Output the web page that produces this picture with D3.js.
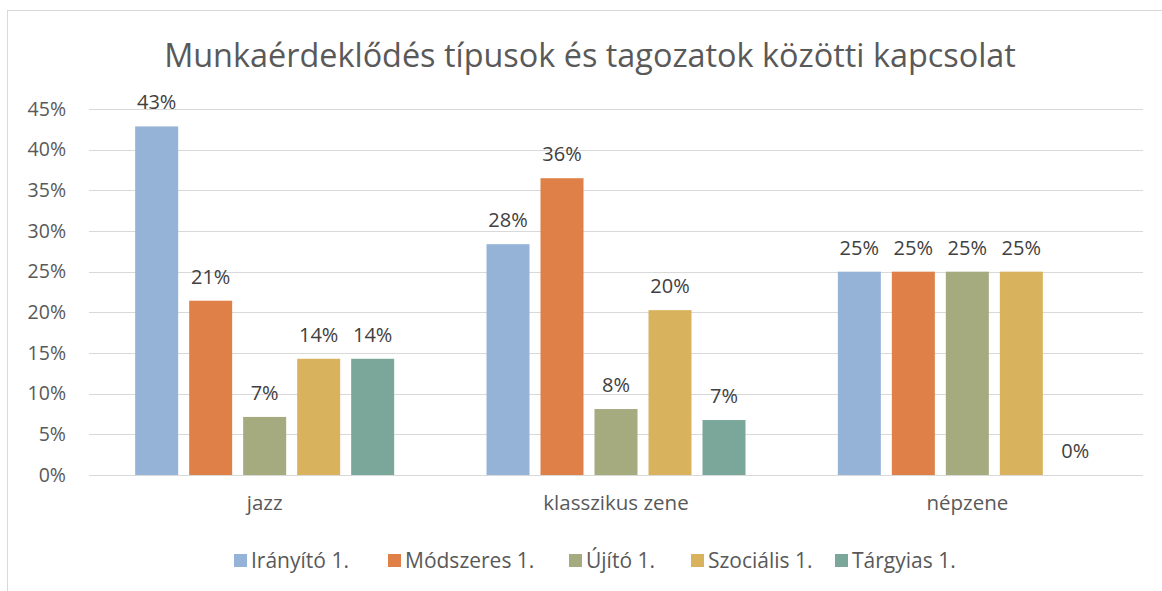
<!DOCTYPE html>
<html>
<head>
<meta charset="utf-8">
<script src="https://cdn.jsdelivr.net/npm/d3@7"></script>
<style>
  body { margin: 0; background: #fff; }
  svg text { font-family: "Open Sans", Lato, sans-serif; }
</style>
</head>
<body>
<div id="chart"></div>
<script>
var categories = ['jazz', 'klasszikus zene', 'népzene'];
var seriesNames = ['Irányító 1.', 'Módszeres 1.', 'Újító 1.', 'Szociális 1.', 'Tárgyias 1.'];
var seriesColors = ['#95B3D6', '#DE8047', '#A5AB7F', '#D9B25E', '#7BA79B'];
// values per series, one per category (fractions)
var iranyito = [0.4286, 0.2838, 0.25];
var modszeres = [0.2143, 0.3649, 0.25];
var ujito = [0.0714, 0.0811, 0.25];
var szocialis = [0.1429, 0.2027, 0.25];
var targyias = [0.1429, 0.0676, 0.0];
var yTicks = [0, 0.05, 0.10, 0.15, 0.20, 0.25, 0.30, 0.35, 0.40, 0.45];

var seriesValues = [iranyito, modszeres, ujito, szocialis, targyias];

var width = 1162, height = 591;
var margin = { top: 109, right: 19, bottom: 116, left: 89 };
var plotW = width - margin.left - margin.right;
var plotH = height - margin.top - margin.bottom;

var svg = d3.select('#chart').append('svg')
    .attr('width', width)
    .attr('height', height);

// chart frame
svg.append('rect')
    .attr('x', 7.5).attr('y', 10.5)
    .attr('width', 1170).attr('height', 600)
    .attr('fill', '#fff')
    .attr('stroke', '#d9d9d9');

svg.append('text')
    .attr('x', 590).attr('y', 67)
    .attr('text-anchor', 'middle')
    .style('font-size', '32.4px')
    .style('fill', '#595959')
    .text('Munkaérdeklődés típusok és tagozatok közötti kapcsolat');

var g = svg.append('g').attr('transform', 'translate(' + margin.left + ',' + margin.top + ')');

var x0 = d3.scaleBand().domain(categories).range([0, plotW]).padding(0);
var x1 = d3.scaleBand().domain(seriesNames).range([0, x0.bandwidth()])
    .paddingInner(0.2037).paddingOuter(0.855);
var y = d3.scaleLinear().domain([0, 0.45]).range([plotH, 0]);

// gridlines
g.append('g')
    .selectAll('line')
    .data(yTicks)
    .enter().append('line')
    .attr('x1', 0).attr('x2', plotW)
    .attr('y1', function (d) { return Math.round(y(d)) + 0.5; })
    .attr('y2', function (d) { return Math.round(y(d)) + 0.5; })
    .attr('stroke', '#d9d9d9')
    .attr('stroke-width', 1);

// y axis labels
var yAxis = g.append('g')
    .call(d3.axisLeft(y).tickValues(yTicks).tickFormat(d3.format('.0%')).tickSize(0).tickPadding(23));
yAxis.select('.domain').remove();
yAxis.selectAll('text')
    .style('font-size', '19.5px')
    .style('fill', '#595959')
    .style('font-family', '"Open Sans", Lato, sans-serif');

// x axis labels
var xAxis = g.append('g')
    .attr('transform', 'translate(0,' + plotH + ')')
    .call(d3.axisBottom(x0).tickSize(0).tickPadding(20));
xAxis.select('.domain').remove();
xAxis.selectAll('text')
    .style('font-size', '20.5px')
    .style('fill', '#595959')
    .style('font-family', '"Open Sans", Lato, sans-serif');

var groups = g.selectAll('.cat')
    .data(categories)
    .enter().append('g')
    .attr('class', 'cat')
    .attr('transform', function (d) { return 'translate(' + x0(d) + ',0)'; });

groups.each(function (cat, ci) {
    var rows = seriesNames.map(function (s, si) {
        return { name: s, value: seriesValues[si][ci], color: seriesColors[si] };
    });
    var grp = d3.select(this);
    grp.selectAll('rect')
        .data(rows)
        .enter().append('rect')
        .attr('x', function (d) { return x1(d.name); })
        .attr('width', x1.bandwidth())
        .attr('y', function (d) { return y(d.value); })
        .attr('height', function (d) { return plotH - y(d.value); })
        .attr('fill', function (d) { return d.color; });
    grp.selectAll('text.lbl')
        .data(rows)
        .enter().append('text')
        .attr('class', 'lbl')
        .attr('x', function (d) { return x1(d.name) + x1.bandwidth() / 2; })
        .attr('y', function (d) { return y(d.value) - 17; })
        .attr('text-anchor', 'middle')
        .style('font-size', '20px')
        .style('fill', '#404040')
        .text(function (d) { return Math.round(d.value * 100) + '%'; });
});

// legend
var legendX = [234, 388, 569, 691, 835];
var legend = svg.append('g').attr('transform', 'translate(0,561)');
var items = legend.selectAll('g')
    .data(seriesNames)
    .enter().append('g')
    .attr('transform', function (d, i) { return 'translate(' + legendX[i] + ',0)'; });
items.append('rect')
    .attr('x', 0).attr('y', -7)
    .attr('width', 13).attr('height', 13)
    .attr('fill', function (d, i) { return seriesColors[i]; });
items.append('text')
    .attr('x', 17).attr('y', 7)
    .style('font-size', '21px')
    .style('fill', '#595959')
    .text(function (d) { return d; });
</script>
</body>
</html>
